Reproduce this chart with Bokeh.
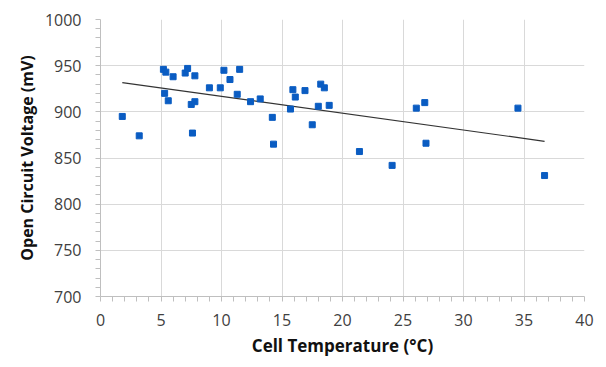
import numpy as np
from bokeh.plotting import figure
from bokeh.models import Range1d, FixedTicker, ColumnDataSource
from bokeh.embed import file_html
from bokeh.resources import INLINE

temperature = [1.8, 3.2, 5.2, 5.4, 6.0, 5.3, 5.6, 7.0, 7.2, 7.8, 7.5, 7.8, 7.6,
               9.0, 9.9, 10.2, 10.7, 11.5, 11.3, 12.4, 13.2, 14.2, 14.3, 15.7,
               15.9, 16.1, 16.9, 17.5, 18.0, 18.2, 18.5, 18.9, 21.4, 24.1, 26.1,
               26.8, 26.9, 34.5, 36.7]
voltage = [895, 874, 946, 943, 938, 920, 912, 942, 947, 939, 908, 911, 877,
           926, 926, 945, 935, 946, 919, 911, 914, 894, 865, 903,
           924, 916, 923, 886, 906, 930, 926, 907, 857, 842, 904,
           910, 866, 904, 831]

x_ticks = [0, 5, 10, 15, 20, 25, 30, 35, 40]
y_ticks = [700, 750, 800, 850, 900, 950, 1000]

FONT = "Open Sans"

p = figure(width=598, height=359, output_backend="svg", toolbar_location=None,
           x_range=Range1d(0, 40), y_range=Range1d(700, 1000),
           min_border_left=100, min_border_right=14, min_border_top=19,
           min_border_bottom=62)
p.outline_line_color = None
p.background_fill_color = "white"
p.border_fill_color = "white"

for ax, ticks, minor in ((p.xaxis, x_ticks, [i for i in range(0, 41) if i % 5]),
                         (p.yaxis, y_ticks, [v for v in range(700, 1001, 10) if v % 50])):
    ax.ticker = FixedTicker(ticks=ticks, minor_ticks=minor)
    ax.axis_line_color = "#bfbfbf"
    ax.major_tick_line_color = "#bfbfbf"
    ax.minor_tick_line_color = "#bfbfbf"
    ax.major_tick_in = 0
    ax.major_tick_out = 5
    ax.minor_tick_in = 0
    ax.minor_tick_out = 5
    ax.major_label_text_font = FONT
    ax.major_label_text_font_size = "16px"
    ax.major_label_text_color = "#404040"
    ax.axis_label_text_font = FONT
    ax.axis_label_text_font_style = "bold"
    ax.axis_label_text_color = "#111111"

p.xaxis.axis_label = "Cell Temperature (°C)"
p.yaxis.axis_label = "Open Circuit Voltage (mV)"
p.xaxis.axis_label_text_font_size = "17px"
p.yaxis.axis_label_text_font_size = "16px"
p.xaxis.major_label_standoff = 12
p.yaxis.major_label_standoff = 14
p.xaxis.axis_label_standoff = 5
p.yaxis.axis_label_standoff = 4

p.xgrid.ticker = FixedTicker(ticks=x_ticks)
p.ygrid.ticker = FixedTicker(ticks=y_ticks)
p.xgrid.grid_line_color = "#d9d9d9"
p.ygrid.grid_line_color = "#d9d9d9"

# linear trend line (least squares)
t = np.array(temperature)
v = np.array(voltage)
slope, intercept = np.polyfit(t, v, 1)
tx = [t.min(), t.max()]
ty = [slope * tx[0] + intercept, slope * tx[1] + intercept]
p.line(tx, ty, line_color="#333333", line_width=1.2)

src = ColumnDataSource(dict(x=temperature, y=voltage))
p.scatter("x", "y", source=src, marker="square", size=6,
          fill_color="#0a5cc2", line_color="#0a5cc2")

open("out.html", "w").write(file_html(p, INLINE))
